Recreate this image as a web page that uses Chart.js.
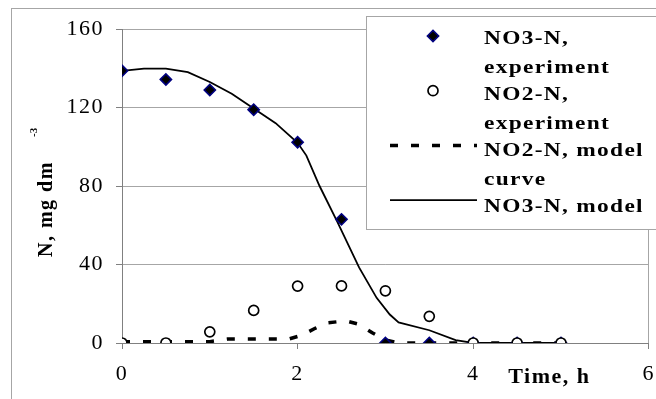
<!DOCTYPE html>
<html>
<head>
<meta charset="utf-8">
<script src="https://cdn.jsdelivr.net/npm/chart.js@4.4.1/dist/chart.umd.min.js"></script>
<style>
  body { margin: 0; background: #fff; }
  #wrap { width: 656px; height: 399px; }
</style>
</head>
<body>
<div id="wrap"><canvas id="nChart"></canvas></div>
<script>
// experiment, sampling times in h
const timeExp = [0, 0.5, 1, 1.5, 2, 2.5, 3, 3.5, 4, 4.5, 5];
const no3Exp = [138.7, 134.3, 128.9, 118.9, 102.3, 63, 0, 0, 0, 0, 0];
const no2Exp = [0, 0, 5.7, 16.6, 29, 29.1, 26.6, 13.6, 0, 0, 0];

// model curves
const timeNo3Model = [0, 0.25, 0.5, 0.75, 1, 1.25, 1.5, 1.75, 2, 2.1, 2.25, 2.45, 2.7, 2.9, 3.05, 3.15, 3.5, 3.8, 4, 4.5, 5];
const no3Model = [138.7, 139.8, 139.8, 138, 133, 127, 119.5, 112, 102, 95.5, 80, 62, 38.5, 23, 14.5, 10.5, 6.5, 1.5, 0, 0, 0];
const timeNo2Model = [0, 0.5, 1, 1.2, 1.9, 2.05, 2.2, 2.35, 2.55, 2.7, 2.85, 3.0, 3.15, 4, 5];
const no2Model = [0.6, 0.6, 0.7, 2, 2, 4, 7.5, 10.3, 11.3, 9.5, 5.2, 1.5, 0, 0, 0];

const xTicks = [0, 2, 4, 6];
const yTicks = [0, 40, 80, 120, 160];

const seriesLabels = ['NO3-N, experiment', 'NO2-N, experiment', 'NO2-N, model curve', 'NO3-N, model'];
const xTitle = 'Time, h';
const yTitle = 'N, mg dm';
const yTitleSup = '-3';

const serif = '"Liberation Serif", "Times New Roman", serif';
const gridGray = '#a6a6a6';
const axisGray = '#808080';

// legend text in the original is wide and spaced out
const legendStretch = 1.3;
const legendSpacing = 1;

function pts(xs, ys) {
    return xs.map((x, i) => ({ x: x, y: ys[i] }));
}

function textWidth(ctx, t) {
    return (ctx.measureText(t).width + t.length * legendSpacing) * legendStretch;
}

function wrapLabel(ctx, text, maxW) {
    const words = text.split(' ');
    const lines = [];
    let cur = '';
    words.forEach(w => {
        const t = cur ? cur + ' ' + w : w;
        if (cur && textWidth(ctx, t) > maxW) {
            lines.push(cur);
            cur = w;
        } else {
            cur = t;
        }
    });
    lines.push(cur);
    return lines;
}

function drawMarker(ctx, ds, x, y) {
    const r = ds.pointRadius;
    ctx.beginPath();
    if (ds.pointStyle === 'rectRot') {
        ctx.moveTo(x - r, y);
        ctx.lineTo(x, y - r);
        ctx.lineTo(x + r, y);
        ctx.lineTo(x, y + r);
        ctx.closePath();
    } else {
        ctx.arc(x, y, r, 0, Math.PI * 2);
    }
    ctx.fillStyle = ds.backgroundColor;
    ctx.fill();
    ctx.lineWidth = ds.pointBorderWidth;
    ctx.strokeStyle = ds.borderColor;
    ctx.stroke();
}

const decor = {
    id: 'decor',
    beforeDraw(chart) {
        const ctx = chart.ctx;
        ctx.save();
        ctx.fillStyle = '#fff';
        ctx.fillRect(0, 0, chart.width, chart.height);
        ctx.strokeStyle = gridGray;
        ctx.lineWidth = 1;
        ctx.strokeRect(11.5, 8.5, 700, 500);
        ctx.restore();
        // tick labels are spaced out a little in the original
        ctx.letterSpacing = '1.5px';
    },
    afterDraw(chart) {
        const ctx = chart.ctx;
        const xs = chart.scales.x;

        // legend box
        ctx.save();
        ctx.fillStyle = '#fff';
        ctx.fillRect(366, 16, 300, 213);
        ctx.strokeStyle = gridGray;
        ctx.lineWidth = 1;
        ctx.strokeRect(366.5, 16.5, 300, 213);

        chart.data.datasets.forEach((ds, i) => {
            const my = 36 + i * 54.7;
            ctx.save();
            if (ds.showLine) {
                ctx.beginPath();
                ctx.setLineDash(ds.borderDash || []);
                ctx.lineWidth = ds.borderWidth;
                ctx.strokeStyle = ds.borderColor;
                ctx.moveTo(390, my);
                ctx.lineTo(477, my);
                ctx.stroke();
            } else {
                drawMarker(ctx, ds, 433, my);
            }
            ctx.restore();

            ctx.save();
            ctx.font = 'bold 18px ' + serif;
            ctx.letterSpacing = '0px';
            const lines = wrapLabel(ctx, ds.label, 170);
            ctx.letterSpacing = legendSpacing + 'px';
            ctx.fillStyle = '#000';
            ctx.textAlign = 'left';
            ctx.textBaseline = 'alphabetic';
            lines.forEach((line, j) => {
                ctx.save();
                ctx.translate(484, 43.5 + i * 56 + j * 29);
                ctx.scale(legendStretch, 1);
                ctx.fillText(line, 0, 0);
                ctx.restore();
            });
            ctx.restore();
        });
        ctx.restore();

        // x axis title sits on the tick row
        ctx.save();
        ctx.font = 'bold 22px ' + serif;
        ctx.letterSpacing = '1.5px';
        ctx.fillStyle = '#000';
        ctx.textAlign = 'left';
        ctx.textBaseline = 'alphabetic';
        ctx.fillText(xTitle, xs.getPixelForValue(4.4), 383);
        ctx.restore();

        // y axis title with superscript
        ctx.save();
        ctx.translate(52, 257);
        ctx.rotate(-Math.PI / 2);
        ctx.fillStyle = '#000';
        ctx.textAlign = 'left';
        ctx.textBaseline = 'alphabetic';
        ctx.font = 'bold 20px ' + serif;
        ctx.letterSpacing = '1.5px';
        ctx.fillText(yTitle, 0, 0);
        ctx.font = 'bold 11px ' + serif;
        ctx.letterSpacing = '0px';
        ctx.fillText(yTitleSup, 120, -15);
        ctx.restore();
    }
};

const ctx = document.getElementById('nChart').getContext('2d');

new Chart(ctx, {
    type: 'scatter',
    data: {
        datasets: [
            {
                label: seriesLabels[0],
                data: pts(timeExp, no3Exp),
                pointStyle: 'rectRot',
                pointRadius: 5.6,
                pointBorderWidth: 1.6,
                backgroundColor: '#000',
                borderColor: '#000080',
                showLine: false,
                order: 1
            },
            {
                label: seriesLabels[1],
                data: pts(timeExp, no2Exp),
                pointStyle: 'circle',
                pointRadius: 5,
                pointBorderWidth: 1.7,
                backgroundColor: '#fff',
                borderColor: '#000',
                showLine: false,
                order: 0
            },
            {
                label: seriesLabels[2],
                data: pts(timeNo2Model, no2Model),
                showLine: true,
                pointRadius: 0,
                borderColor: '#000',
                borderWidth: 3.5,
                borderDash: [8, 13],
                order: 2
            },
            {
                label: seriesLabels[3],
                data: pts(timeNo3Model, no3Model),
                showLine: true,
                pointRadius: 0,
                borderColor: '#000',
                borderWidth: 1.8,
                order: 3
            }
        ]
    },
    options: {
        responsive: true,
        maintainAspectRatio: false,
        animation: false,
        layout: { padding: { left: 0, top: 29, right: 1, bottom: 0 } },
        plugins: {
            legend: { display: false },
            tooltip: { enabled: false }
        },
        scales: {
            x: {
                type: 'linear',
                min: 0,
                max: 6,
                afterBuildTicks: s => { s.ticks = xTicks.map(v => ({ value: v })); },
                afterFit: s => { s.height = 56; s.paddingLeft = 0; s.paddingRight = 0; },
                grid: {
                    color: c => (c.tick && c.tick.value === 6) ? gridGray : 'rgba(0,0,0,0)',
                    tickColor: axisGray,
                    tickLength: 6
                },
                border: { color: axisGray, width: 1 },
                ticks: {
                    font: { family: serif, size: 22 },
                    color: '#000',
                    padding: 12,
                    maxRotation: 0,
                    autoSkip: false
                }
            },
            y: {
                min: 0,
                max: 160,
                afterBuildTicks: s => { s.ticks = yTicks.map(v => ({ value: v })); },
                afterFit: s => { s.width = 122; },
                grid: {
                    color: c => (c.tick && c.tick.value === 0) ? axisGray : gridGray,
                    tickColor: axisGray,
                    tickLength: 6
                },
                border: { color: axisGray, width: 1 },
                ticks: {
                    font: { family: serif, size: 22 },
                    color: '#000',
                    padding: 12
                }
            }
        }
    },
    plugins: [decor]
});
</script>
</body>
</html>
